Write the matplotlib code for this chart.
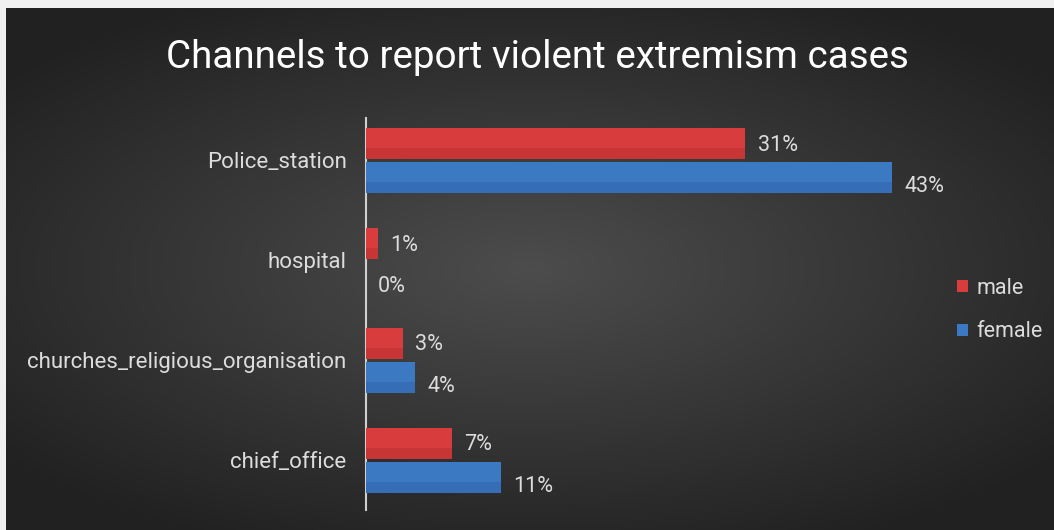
import numpy as np
import matplotlib.pyplot as plt

# channels and shares (percent) by gender
channels = ['Police_station', 'hospital', 'churches_religious_organisation', 'chief_office']
male = [31, 1, 3, 7]
female = [43, 0, 4, 11]

plt.rcParams['font.family'] = ['Roboto', 'DejaVu Sans']

fig = plt.figure(figsize=(10.54, 5.30), dpi=100)
fig.patch.set_facecolor('#f0f0f0')

# dark panel with a soft radial glow in the middle
bg = fig.add_axes([6 / 1054, 0, 1 - 6 / 1054, 1 - 8 / 530])
yy, xx = np.mgrid[-1:1:300j, -1:1:600j]
r = np.sqrt(xx ** 2 + (yy / 0.9) ** 2)
glow = np.clip(1 - r / 1.3, 0, 1)
shade = 0.13 + 0.17 * glow
bg.imshow(np.dstack([shade, shade, shade]), aspect='auto',
          extent=[0, 1, 0, 1], interpolation='bilinear')
bg.set_axis_off()

ax = fig.add_axes([366 / 1054, 1 - 510 / 530, 612 / 1054, 392 / 530])
ax.patch.set_alpha(0)

y = np.arange(len(channels))
h = 0.31
ax.barh(y - 0.17, male, height=h, color='#d83c3c', label='male', zorder=3)
ax.barh(y + 0.17, female, height=h, color='#3b79c3', label='female', zorder=3)
# darker lower edge for the bevelled look
ax.barh(y - 0.17 + h * 0.33, male, height=h * 0.34, color='#a82a2a', alpha=0.35, zorder=3)
ax.barh(y + 0.17 + h * 0.33, female, height=h * 0.34, color='#2a5c9e', alpha=0.35, zorder=3)

for yi, v in zip(y, male):
    ax.text(v + 1.0, yi - 0.15, f'{v}%', color='#dcdcdc', fontsize=15.5, va='center')
for yi, v in zip(y, female):
    ax.text(v + 1.0, yi + 0.26, f'{v}%', color='#dcdcdc', fontsize=15.5, va='center')

ax.set_xlim(0, 50)
ax.set_ylim(3.5, -0.42)
ax.set_yticks(y)
ax.set_yticklabels(channels, color='#dcdcdc', fontsize=16)
ax.tick_params(axis='y', length=0, pad=14)
ax.set_xticks([])
for s in ['top', 'right', 'bottom']:
    ax.spines[s].set_visible(False)
ax.spines['left'].set_color('#cfcfcf')
ax.spines['left'].set_linewidth(1.5)

fig.text(0.51, 1 - 58 / 530, 'Channels to report violent extremism cases',
         color='white', fontsize=27.8, ha='center', va='center')

leg = fig.legend(loc='center left', bbox_to_anchor=(957 / 1054, 1 - 310 / 530),
                 frameon=False, fontsize=15.5, handlelength=0.5, handleheight=0.5,
                 handletextpad=0.4, labelspacing=1.05, borderaxespad=0, borderpad=0)
for t in leg.get_texts():
    t.set_color('#dcdcdc')

fig.savefig('out.png', dpi=100, facecolor=fig.get_facecolor())
